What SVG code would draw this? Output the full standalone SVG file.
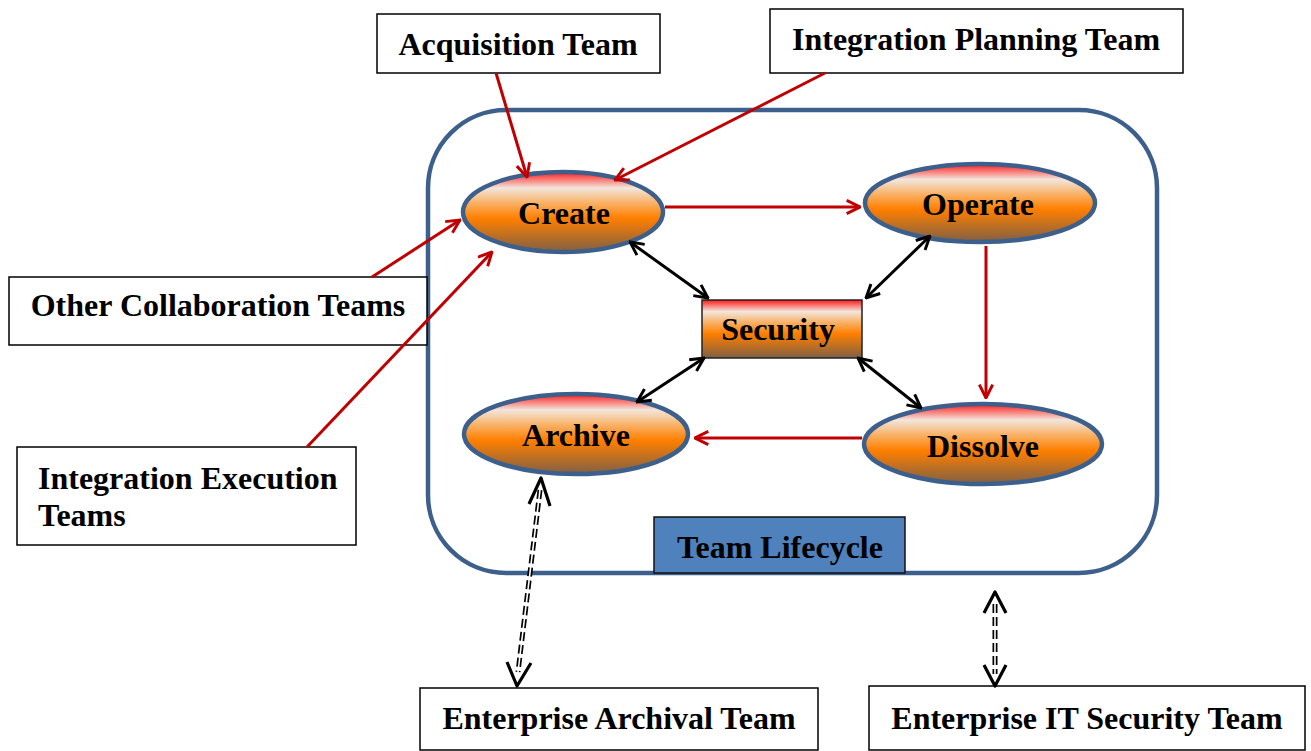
<svg xmlns="http://www.w3.org/2000/svg" width="1311" height="751" viewBox="0 0 1311 751">
<style>
text{font-family:"Liberation Serif","Times New Roman",serif;font-weight:bold;font-size:32px;fill:#000}
.box{fill:#fff;stroke:#000;stroke-width:1.5}
.ell{fill:url(#g);stroke:#3d5f8c;stroke-width:4.5}
.red{stroke:#c00000;stroke-width:3;fill:none;marker-end:url(#ar)}
.blk{stroke:#000;stroke-width:3;fill:none;marker-start:url(#ak);marker-end:url(#ak)}
.dsh{stroke:#000;stroke-width:5;fill:none;stroke-dasharray:9 4}
.dshw{stroke:#fff;stroke-width:1.6;fill:none}
</style>
<defs>
<linearGradient id="g" x1="0" y1="0" x2="0" y2="1">
<stop offset="0" stop-color="#ff1a1a"/>
<stop offset="0.2" stop-color="#f2e6dc"/>
<stop offset="0.38" stop-color="#f9b36a"/>
<stop offset="0.58" stop-color="#ff7f00"/>
<stop offset="1" stop-color="#7f6045"/>
</linearGradient>
<marker id="ar" viewBox="0 0 12 12" refX="11" refY="6" markerWidth="16" markerHeight="16" markerUnits="userSpaceOnUse" orient="auto-start-reverse">
<path d="M1,1 L11,6 L1,11" fill="none" stroke="#c00000" stroke-width="2.2"/>
</marker>
<marker id="ak" viewBox="0 0 12 12" refX="11" refY="6" markerWidth="16" markerHeight="16" markerUnits="userSpaceOnUse" orient="auto-start-reverse">
<path d="M1,1 L11,6 L1,11" fill="none" stroke="#000" stroke-width="2.2"/>
</marker>
</defs>

<g id="lifecycle">
<rect x="428" y="110" width="729" height="463" rx="78" fill="none" stroke="#3d5f8c" stroke-width="4.5"/>
</g>

<g id="acquisition"><rect class="box" x="377" y="14" width="283" height="59"/><text x="518" y="55" text-anchor="middle">Acquisition Team</text></g>
<g id="planning"><rect class="box" x="770" y="9" width="413" height="64"/><text x="976" y="50" text-anchor="middle">Integration Planning Team</text></g>
<g id="other"><rect class="box" x="9" y="277" width="418" height="68"/><text x="218" y="316" text-anchor="middle">Other Collaboration Teams</text></g>
<g id="execution"><rect class="box" x="17" y="447" width="339" height="98"/><text x="38" y="489">Integration Execution</text><text x="38" y="526">Teams</text></g>
<g id="archival"><rect class="box" x="420" y="688" width="398" height="62"/><text x="619" y="729" text-anchor="middle">Enterprise Archival Team</text></g>
<g id="itsecurity"><rect class="box" x="869" y="686" width="436" height="64"/><text x="1087" y="729" text-anchor="middle">Enterprise IT Security Team</text></g>

<g id="create"><ellipse class="ell" cx="563" cy="212" rx="100" ry="40"/><text x="564" y="224" text-anchor="middle">Create</text></g>
<g id="operate"><ellipse class="ell" cx="980" cy="203" rx="115" ry="39"/><text x="978" y="215" text-anchor="middle">Operate</text></g>
<g id="archive"><ellipse class="ell" cx="576" cy="434" rx="112" ry="40"/><text x="576" y="446" text-anchor="middle">Archive</text></g>
<g id="dissolve"><ellipse class="ell" cx="983" cy="444" rx="119" ry="40"/><text x="983" y="457" text-anchor="middle">Dissolve</text></g>
<g id="security"><rect x="702" y="300" width="160" height="58" fill="url(#g)" stroke="#222" stroke-width="1.5"/><text x="778" y="340" text-anchor="middle">Security</text></g>
<g id="teamlifecycle"><rect x="654" y="517" width="251" height="56" fill="#4f81bd" stroke="#111" stroke-width="1.5"/><text x="780" y="558" text-anchor="middle">Team Lifecycle</text></g>

<g id="connectors">
<line class="red" x1="496" y1="73" x2="527" y2="177"/>
<line class="red" x1="825" y1="73" x2="615" y2="180"/>
<line class="red" x1="372" y1="277" x2="460" y2="220"/>
<line class="red" x1="307" y1="447" x2="492" y2="252"/>
<line class="red" x1="665" y1="207" x2="860" y2="207"/>
<line class="red" x1="986" y1="246" x2="986" y2="398"/>
<line class="red" x1="862" y1="438" x2="695" y2="438"/>
<line class="blk" x1="630" y1="242" x2="708" y2="298"/>
<line class="blk" x1="930" y1="236" x2="866" y2="298"/>
<line class="blk" x1="637" y1="402" x2="704" y2="358"/>
<line class="blk" x1="858" y1="358" x2="921" y2="408"/>
<line class="dsh" x1="540" y1="490" x2="518" y2="672"/>
<line class="dshw" x1="540" y1="490" x2="518" y2="672"/>
<path d="M529,504 L541,478 L550,506 M507,662 L517,686 L531,663" fill="none" stroke="#000" stroke-width="3.2" stroke-linejoin="round"/>
<line class="dsh" x1="995" y1="604" x2="995" y2="674"/>
<line class="dshw" x1="995" y1="604" x2="995" y2="674"/>
<path d="M984,613 L995,592 L1006,613 M984,665 L995,686 L1006,665" fill="none" stroke="#000" stroke-width="3.2" stroke-linejoin="round"/>
</g>
</svg>
